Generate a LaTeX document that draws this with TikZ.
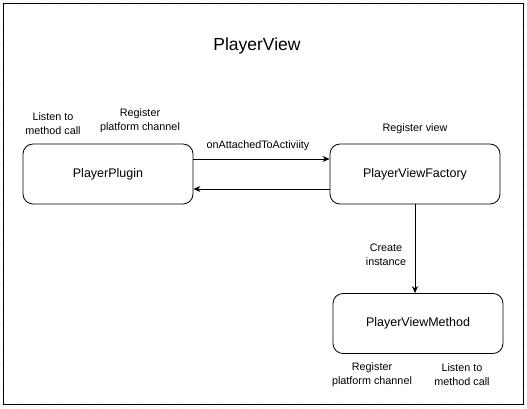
\documentclass[tikz,border=0pt]{standalone}
\usepackage{fontspec}
\setmainfont{Liberation Sans}
\usetikzlibrary{arrows.meta}
\begin{document}
\begin{tikzpicture}[x=1pt,y=-1pt,
  box/.style={draw, line width=0.8pt, rounded corners=10pt, minimum width=170pt, minimum height=60pt, font=\fontsize{12.5}{14}\selectfont, inner sep=0pt},
  lbl/.style={font=\fontsize{10.8}{14}\selectfont, align=center, inner sep=0pt},
  conn/.style={line width=0.8pt, -{Stealth[length=7pt,width=6pt]}}]
\useasboundingbox (0,0) rectangle (527,409);
% background grid
\foreach \i in {3,23,...,523} {\draw[gray!12, line width=0.6pt] (\i,0) -- (\i,409);}
\foreach \j in {4,24,...,404} {\draw[gray!12, line width=0.6pt] (0,\j) -- (527,\j);}
\draw[line width=1pt, fill=white] (3,4) rectangle (523,404);
\node[font=\fontsize{17.5}{20}\selectfont] (title) at (257,46) {PlayerView};
\node[box] (plugin) at (108,174) {PlayerPlugin};
\node[box] (factory) at (415,174) {PlayerViewFactory};
\node[box] (method) at (418,323.5) {PlayerViewMethod};
\draw[conn] ([yshift=15pt]plugin.east) -- ([yshift=15pt]factory.west);
\draw[conn] ([yshift=-15pt]factory.west) -- ([yshift=-15pt]plugin.east);
\draw[conn] (factory.south) -- (factory.south |- method.north);
\node[lbl] (l1) at (53,124) {Listen to\\method call};
\node[lbl] (l2) at (140,121) {Register\\platform channel};
\node[lbl] (l3) at (415,129) {Register view};
\node[lbl] (l4) at (258,146) {onAttachedToActiviity};
\node[lbl] (l5) at (386,255) {Create\\instance};
\node[lbl] (l6) at (372,375) {Register\\platform channel};
\node[lbl] (l7) at (462,375) {Listen to\\method call};
\end{tikzpicture}
\end{document}
